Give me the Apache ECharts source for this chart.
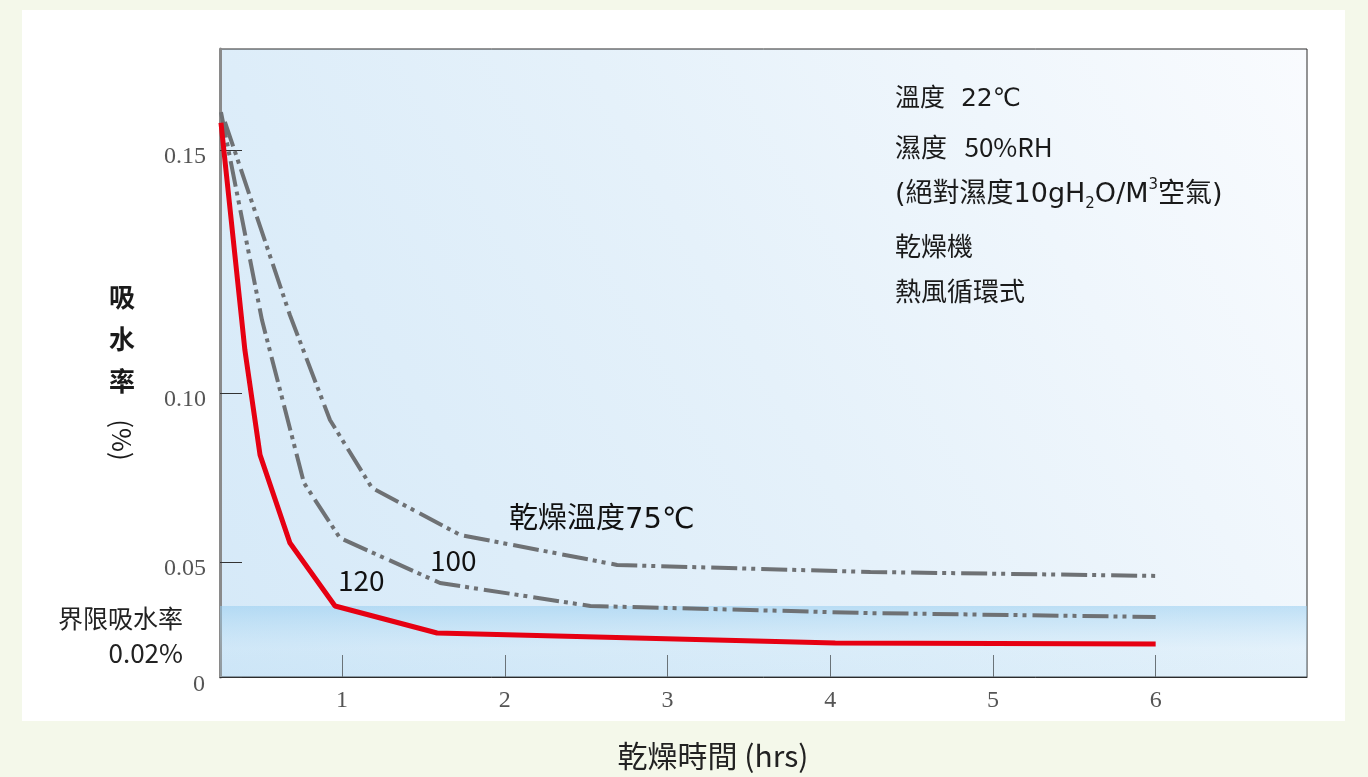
<!DOCTYPE html>
<html><head><meta charset="utf-8">
<script src="https://cdn.jsdelivr.net/npm/echarts@6/dist/echarts.min.js"></script>
<style>
html,body{margin:0;padding:0;background:#f4f8ea;}
#panel{position:absolute;left:22px;top:10px;width:1323px;height:711px;background:#ffffff;}
#c{position:absolute;left:0;top:0;width:1368px;height:777px;}
</style>
</head><body><div id="panel"></div><div id="c"></div>
<script>
// ---- data ----
const xTicks = [1, 2, 3, 4, 5, 6];
const yTicks = [0, 0.05, 0.10, 0.15];
const yTickLabels = ['0', '0.05', '0.10', '0.15'];
const thresholdValue = 0.02;

const hours75 = [0.280, 0.680, 0.926, 1.184, 1.726, 2.691, 4.247, 6.0];
const rate75  = [0.1558, 0.1160, 0.0920, 0.0719, 0.0580, 0.0480, 0.0432, 0.0405];
const hours100 = [0.256, 0.508, 0.766, 0.987, 1.602, 2.526, 4.247, 6.0];
const rate100  = [0.1578, 0.1150, 0.0734, 0.0571, 0.0357, 0.0200, 0.0180, 0.0169];
const hours120 = [0.256, 0.403, 0.496, 0.680, 0.957, 1.584, 4.031, 6.0];
const rate120  = [0.1556, 0.1088, 0.0817, 0.0556, 0.0200, 0.0124, 0.0096, 0.0093];

// printed (non-uniform) y scale: value breakpoints -> relative axis units
const yScaleValues = [0, 0.02, 0.05, 0.10, 0.15];
const yScaleUnits  = [0, 71, 115, 284, 527];
const yAxisMaxUnits = 628;

function yScale(v) {
  const n = yScaleValues.length;
  let i = 0;
  while (i < n - 2 && v > yScaleValues[i + 1]) i++;
  const v0 = yScaleValues[i], v1 = yScaleValues[i + 1];
  const u0 = yScaleUnits[i], u1 = yScaleUnits[i + 1];
  return u0 + (v - v0) / (v1 - v0) * (u1 - u0);
}
function pairs(xs, ys) { return xs.map((x, i) => [x, yScale(ys[i])]); }

const greyDash = [26, 5, 4, 5, 4, 6];
const cjk = '"Noto Sans CJK TC", "Noto Sans", sans-serif';
const wide = '"DejaVu Sans", "Noto Sans CJK TC", sans-serif';
const serif = '"Liberation Serif", "DejaVu Serif", serif';

const chart = echarts.init(document.getElementById('c'), null, {renderer: 'canvas'});
chart.setOption({
  backgroundColor: 'transparent',
  animation: false,
  grid: {
    left: 220, right: 61, top: 49, bottom: 100,
    outerBoundsMode: 'none', containLabel: false,
    show: true, borderColor: '#2b2b2b', borderWidth: 1,
    backgroundColor: new echarts.graphic.LinearGradient(0, 1, 1, 0, [
      {offset: 0, color: '#d5e9f8'},
      {offset: 0.5, color: '#e5f1fa'},
      {offset: 1, color: '#f9fbfe'}
    ])
  },
  xAxis: {
    type: 'value', min: 0.25, max: 6.93,
    axisLine: {show: true, lineStyle: {color: '#2b2b2b', width: 1}},
    axisTick: {show: true, inside: true, length: 22, customValues: xTicks, lineStyle: {color: '#555', width: 1}},
    axisLabel: {customValues: xTicks, margin: 12, fontFamily: serif, fontSize: 24, color: '#555',
      formatter: v => String(Math.round(v))},
    splitLine: {show: false}
  },
  yAxis: {
    type: 'value', min: 0, max: yAxisMaxUnits,
    axisLine: {show: true, lineStyle: {color: '#8a8a8a', width: 3}},
    axisTick: {show: true, inside: true, length: 22, customValues: yTicks.map(yScale), lineStyle: {color: '#333', width: 1}},
    axisLabel: {
      customValues: yTicks.filter(v => v > 0).map(yScale), margin: 14,
      formatter: function (u) {
        for (let i = 0; i < yTicks.length; i++) if (Math.abs(yScale(yTicks[i]) - u) < 0.5) return '{v|' + yTickLabels[i] + '}';
        return '';
      },
      rich: {v: {fontFamily: serif, fontSize: 24, color: '#555', padding: [14, 0, 0, 0]}}
    },
    splitLine: {show: false}
  },
  series: [
    {
      type: 'line', data: [], z: 1, silent: true,
      markArea: {
        silent: true,
        itemStyle: {color: new echarts.graphic.LinearGradient(0, 0, 0, 1, [
          {offset: 0, color: 'rgba(150,205,240,0.55)'},
          {offset: 0.6, color: 'rgba(190,225,246,0.25)'},
          {offset: 1, color: 'rgba(170,215,242,0.2)'}
        ])},
        data: [[{yAxis: yScale(0)}, {yAxis: yScale(thresholdValue)}]]
      }
    },
    {
      name: '75', type: 'line', data: pairs(hours75, rate75), symbol: 'none', z: 3,
      lineStyle: {color: '#6e7174', width: 4, type: greyDash, cap: 'butt'}
    },
    {
      name: '100', type: 'line', data: pairs(hours100, rate100), symbol: 'none', z: 3,
      lineStyle: {color: '#6e7174', width: 4, type: greyDash, cap: 'butt'}
    },
    {
      name: '120', type: 'line', data: pairs(hours120, rate120), symbol: 'none', z: 4,
      lineStyle: {color: '#e60012', width: 5}
    }
  ],
  graphic: [
    {type: 'text', x: 205, y: 685, style: {text: '0', fontFamily: serif, fontSize: 24, fill: '#555', align: 'right', verticalAlign: 'middle'}},
    {type: 'text', x: 895, y: 99, style: {text: '溫度  22℃', fontFamily: wide, fontSize: 25, fill: '#1a1a1a', verticalAlign: 'middle'}},
    {type: 'text', x: 895, y: 147, style: {text: '濕度   50%RH', fontFamily: cjk, fontSize: 26, fill: '#1a1a1a', verticalAlign: 'middle'}},
    {type: 'text', x: 895, y: 195, style: {
      text: '{a|(絕對濕度10gH}{sub|2}{a|O/M}{sup|3}{a|空氣)}',
      verticalAlign: 'middle',
      rich: {
        a: {fontFamily: wide, fontSize: 27, fill: '#1a1a1a', lineHeight: 34},
        sub: {fontFamily: wide, fontSize: 15, fill: '#1a1a1a', verticalAlign: 'bottom', lineHeight: 15},
        sup: {fontFamily: wide, fontSize: 15, fill: '#1a1a1a', verticalAlign: 'top', lineHeight: 15}
      }
    }},
    {type: 'text', x: 895, y: 246, style: {text: '乾燥機', fontFamily: cjk, fontSize: 26, fill: '#1a1a1a', verticalAlign: 'middle'}},
    {type: 'text', x: 895, y: 291, style: {text: '熱風循環式', fontFamily: cjk, fontSize: 26, fill: '#1a1a1a', verticalAlign: 'middle'}},
    {type: 'text', x: 509, y: 520, style: {text: '乾燥溫度75℃', fontFamily: wide, fontSize: 29, fill: '#111', verticalAlign: 'middle'}},
    {type: 'text', x: 430, y: 560, style: {text: '100', fontFamily: cjk, fontSize: 28, fill: '#111', verticalAlign: 'middle'}},
    {type: 'text', x: 338, y: 580, style: {text: '120', fontFamily: cjk, fontSize: 28, fill: '#111', verticalAlign: 'middle'}},
    {type: 'text', x: 183, y: 618, style: {text: '界限吸水率', fontFamily: cjk, fontSize: 25, fill: '#222', align: 'right', verticalAlign: 'middle'}},
    {type: 'text', x: 183, y: 653, style: {text: '0.02%', fontFamily: cjk, fontSize: 26, fill: '#222', align: 'right', verticalAlign: 'middle'}},
    {type: 'text', x: 122, y: 276, style: {text: '吸\n水\n率', fontFamily: cjk, fontSize: 26, fontWeight: 'bold', lineHeight: 42, fill: '#1a1a1a', align: 'center', verticalAlign: 'top'}},
    {type: 'text', x: 122, y: 440, rotation: -Math.PI / 2, style: {text: '(%)', fontFamily: cjk, fontSize: 26, fill: '#1a1a1a', align: 'center', verticalAlign: 'middle'}},
    {type: 'text', x: 713, y: 756, style: {text: '乾燥時間 (hrs)', fontFamily: cjk, fontSize: 30, fill: '#222', align: 'center', verticalAlign: 'middle'}}
  ]
});
</script>
</body></html>
